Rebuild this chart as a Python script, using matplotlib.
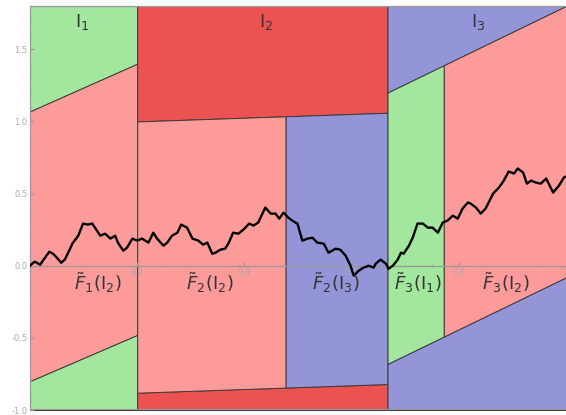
import numpy as np
import matplotlib
matplotlib.use("Agg")
from matplotlib import pyplot as plt

plt.rcParams['mathtext.fontset'] = 'dejavusans'

# interval boundaries and the split points inside I2 and I3
edges = [0.0, 0.2, 0.667, 1.0]
split2 = 0.477
split3 = 0.772

# upper / lower boundary lines of each band (value at left end, right end)
upper1 = [1.07, 1.40]
lower1 = [-0.80, -0.48]
upper2 = [1.00, 1.06]
lower2 = [-0.88, -0.82]
upper3 = [1.20, 1.80]
lower3 = [-0.68, -0.08]

# sample path
walk_x = [0.0, 0.004, 0.009, 0.019, 0.024, 0.036, 0.043, 0.050, 0.058, 0.065,
          0.073, 0.079, 0.090, 0.099, 0.108, 0.116, 0.125, 0.131, 0.140, 0.150,
          0.159, 0.164, 0.174, 0.181, 0.191, 0.200, 0.209, 0.215, 0.221, 0.230,
          0.237, 0.249, 0.256, 0.265, 0.275, 0.282, 0.293, 0.303, 0.314, 0.323,
          0.331, 0.340, 0.346, 0.355, 0.364, 0.370, 0.379, 0.389, 0.398, 0.409,
          0.417, 0.426, 0.430, 0.439, 0.449, 0.458, 0.465, 0.473, 0.482, 0.492,
          0.499, 0.508, 0.518, 0.527, 0.536, 0.548, 0.557, 0.570, 0.579, 0.589,
          0.598, 0.604, 0.613, 0.622, 0.632, 0.641, 0.645, 0.654, 0.664, 0.669,
          0.677, 0.686, 0.692, 0.697, 0.707, 0.714, 0.723, 0.733, 0.742, 0.751,
          0.761, 0.770, 0.779, 0.789, 0.798, 0.807, 0.817, 0.822, 0.832, 0.841,
          0.850, 0.864, 0.875, 0.884, 0.893, 0.903, 0.910, 0.920, 0.927, 0.935,
          0.944, 0.953, 0.963, 0.976, 0.987, 0.996, 1.0]
walk_y = [0.0, 0.014, 0.028, 0.007, 0.035, 0.097, 0.083, 0.056, 0.021, 0.042,
          0.104, 0.153, 0.208, 0.292, 0.285, 0.292, 0.243, 0.208, 0.222, 0.188,
          0.208, 0.160, 0.104, 0.125, 0.188, 0.174, 0.188, 0.174, 0.160, 0.229,
          0.188, 0.139, 0.160, 0.208, 0.229, 0.285, 0.264, 0.188, 0.174, 0.146,
          0.160, 0.083, 0.090, 0.111, 0.118, 0.153, 0.229, 0.222, 0.250, 0.292,
          0.278, 0.300, 0.333, 0.403, 0.361, 0.361, 0.326, 0.368, 0.333, 0.306,
          0.292, 0.174, 0.188, 0.194, 0.160, 0.153, 0.090, 0.118, 0.111, 0.069,
          0.0, -0.069, -0.035, -0.014, 0.0, -0.014, 0.014, 0.042, 0.014, -0.021,
          0.0, 0.042, 0.090, 0.083, 0.139, 0.194, 0.292, 0.292, 0.264, 0.264,
          0.229, 0.299, 0.313, 0.347, 0.326, 0.396, 0.438, 0.431, 0.403, 0.361,
          0.396, 0.500, 0.542, 0.590, 0.653, 0.639, 0.674, 0.646, 0.569, 0.590,
          0.576, 0.569, 0.604, 0.507, 0.556, 0.611, 0.618]

xticks = [0.2, 0.4, 0.6, 0.8, 1.0]
xtick_labels = ['0.2', '0.4', '0.6', '0.8', '1']
yticks = [-1.0, -0.5, 0.0, 0.5, 1.0, 1.5]
ytick_labels = ['-1.0', '-0.5', '0.0', '0.5', '1.0', '1.5']

band_titles = [r'$\mathrm{I}_1$', r'$\mathrm{I}_2$', r'$\mathrm{I}_3$']
band_title_x = [0.097, 0.44, 0.837]
region_labels = [r'$\tilde{F}_1(\mathrm{I}_2)$', r'$\tilde{F}_2(\mathrm{I}_2)$',
                 r'$\tilde{F}_2(\mathrm{I}_3)$', r'$\tilde{F}_3(\mathrm{I}_1)$',
                 r'$\tilde{F}_3(\mathrm{I}_2)$']
region_label_x = [0.127, 0.336, 0.57, 0.723, 0.888]

GREEN = '#a3e69e'
PINK = '#fd9a9a'
RED = '#ec524f'
BLUE = '#9494d8'
EDGE = '#3a3a3a'

ymin, ymax = -1.0, 1.8

fig = plt.figure(figsize=(5.66, 4.15), dpi=100)
ax = fig.add_axes([30 / 566, 5 / 415, 536 / 566, 404 / 415])


def band(x, lo, hi, color):
    ax.fill_between(x, lo, hi, facecolor=color, edgecolor=EDGE, linewidth=0.7)


# I1 band
x1 = edges[0:2]
band(x1, upper1, ymax, GREEN)
band(x1, lower1, upper1, PINK)
band(x1, ymin, lower1, GREEN)

# I2 band
x2 = edges[1:3]
band(x2, upper2, ymax, RED)
band(x2, ymin, lower2, RED)
xa = [edges[1], split2]
xb = [split2, edges[2]]
band(xa, np.interp(xa, x2, lower2), np.interp(xa, x2, upper2), PINK)
band(xb, np.interp(xb, x2, lower2), np.interp(xb, x2, upper2), BLUE)

# I3 band
x3 = edges[2:4]
band(x3, upper3, ymax, BLUE)
band(x3, ymin, lower3, BLUE)
xa = [edges[2], split3]
xb = [split3, edges[3]]
band(xa, np.interp(xa, x3, lower3), np.interp(xa, x3, upper3), GREEN)
band(xb, np.interp(xb, x3, lower3), np.interp(xb, x3, upper3), PINK)

ax.plot(walk_x, walk_y, color='black', linewidth=1.7, zorder=4)

for t, x in zip(band_titles, band_title_x):
    ax.text(x, 1.69, t, ha='center', va='center', fontsize=13, color='#333333', zorder=5)
for t, x in zip(region_labels, region_label_x):
    ax.text(x, -0.12, t, ha='center', va='center', fontsize=13, color='#333333', zorder=5)

ax.set_xlim(0, 1)
ax.set_ylim(ymin, ymax)

# Mathematica style axes crossing at the origin
ax.spines['left'].set_position(('data', 0))
ax.spines['bottom'].set_position(('data', 0))
ax.spines['right'].set_visible(False)
for s in ['left', 'bottom', 'top']:
    ax.spines[s].set_color('#999999')
    ax.spines[s].set_linewidth(0.9)
    ax.spines[s].set_zorder(3)
ax.axhline(ymin, color='#999999', linewidth=1.5, zorder=3)

ax.set_xticks(xticks)
ax.set_xticklabels(xtick_labels)
ax.set_yticks(yticks)
ax.set_yticklabels(ytick_labels)
ax.set_xticks(np.arange(0.05, 1.0, 0.05), minor=True)
ax.set_yticks(np.arange(-1.0, 1.8, 0.1), minor=True)
ax.tick_params(axis='both', which='major', direction='in', length=3, color='#999999',
               labelcolor='#aaaaaa', labelsize=6, pad=2)
ax.tick_params(axis='both', which='minor', direction='in', length=1.5, color='#aaaaaa')
ax.tick_params(axis='x', which='both', top=False)

fig.savefig('out.png', dpi=100)
